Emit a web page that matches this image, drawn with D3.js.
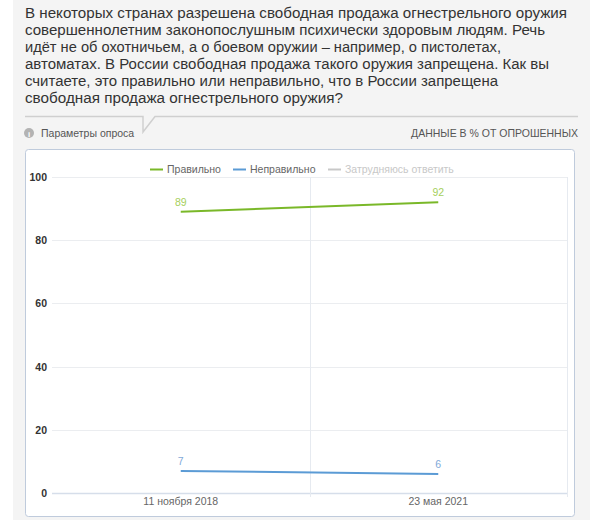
<!DOCTYPE html>
<html>
<meta charset="utf-8">
<style>
  body {
    margin: 0;
    background: #fff;
  }
  text {
    font-family: 'Liberation Sans', Arial, sans-serif;
  }
  .title {
    font-size: 14.7px;
    fill: #333;
  }
</style>
<body>
<script src="https://cdnjs.cloudflare.com/ajax/libs/d3/7.8.5/d3.min.js"></script>
<script>

// question text, one entry per rendered line
var titleLines = [
  'В некоторых странах разрешена свободная продажа огнестрельного оружия',
  'совершеннолетним законопослушным психически здоровым людям. Речь',
  'идёт не об охотничьем, а о боевом оружии – например, о пистолетах,',
  'автоматах. В России свободная продажа такого оружия запрещена. Как вы',
  'считаете, это правильно или неправильно, что в России запрещена',
  'свободная продажа огнестрельного оружия?'
];
// right end of each title line in the reference
var titleEnds = [567, 545, 501, 549, 498, 343];

var dates = ['11 ноября 2018', '23 мая 2021'];
var seriesNames = ['Правильно', 'Неправильно', 'Затрудняюсь ответить'];
var correctValues = [89, 92];
var wrongValues = [7, 6];
var unsureValues = [4, 2];
var seriesVisible = [true, true, false];
var seriesColors = ['#7ab829', '#5b9bd5', '#c8c8c8'];
var labelColors = ['#a6cf5c', '#7fa9d8', '#c8c8c8'];
var yTicks = [0, 20, 40, 60, 80, 100];

var W = 598, H = 520;

var svg = d3.select('body').append('svg')
  .attr('width', W)
  .attr('height', H);

// grey page panel
svg.append('rect')
  .attr('x', 13).attr('y', 0)
  .attr('width', 577).attr('height', H)
  .attr('fill', '#f4f4f4');

// title
svg.append('g').selectAll('text')
  .data(titleLines)
  .enter()
  .append('text')
  .attr('class', 'title')
  .attr('x', 25)
  .attr('y', function(d, i) { return 18 + i * 17; })
  .attr('textLength', function(d, i) { return titleEnds[i] - 25; })
  .attr('lengthAdjust', 'spacingAndGlyphs')
  .text(function(d) { return d; });

// separator with notch
svg.append('path')
  .attr('d', 'M25,116.5 H143 V132 L155,116.5 H578')
  .attr('fill', 'none')
  .attr('stroke', '#cfcfcf')
  .attr('stroke-width', 1.5);

// info icon + survey params
svg.append('circle')
  .attr('cx', 29).attr('cy', 133).attr('r', 5)
  .attr('fill', '#b3b3b3');
svg.append('text')
  .attr('x', 29).attr('y', 136.5)
  .attr('text-anchor', 'middle')
  .style('font-size', '8px')
  .style('font-weight', 'bold')
  .attr('fill', '#fff')
  .text('i');
svg.append('text')
  .attr('x', 41).attr('y', 137)
  .style('font-size', '10.5px')
  .attr('fill', '#555')
  .text('Параметры опроса');
svg.append('text')
  .attr('x', 578).attr('y', 137)
  .attr('text-anchor', 'end')
  .style('font-size', '10.5px')
  .attr('fill', '#555')
  .text('ДАННЫЕ В % ОТ ОПРОШЕННЫХ');

// chart box
svg.append('rect')
  .attr('x', 25.5).attr('y', 149.5)
  .attr('width', 549).attr('height', 367)
  .attr('rx', 3)
  .attr('fill', '#fff')
  .attr('stroke', '#bfcbdc')
  .attr('stroke-width', 1);

var plot = { left: 52, right: 567, top: 177, bottom: 493 };

var x = d3.scaleBand()
  .domain(dates)
  .range([plot.left, plot.right]);

var y = d3.scaleLinear()
  .domain([0, 100])
  .range([plot.bottom, plot.top]);

// horizontal grid
svg.append('g').selectAll('line')
  .data(yTicks)
  .enter()
  .append('line')
  .attr('x1', plot.left).attr('x2', plot.right)
  .attr('y1', function(d) { return Math.round(y(d)) + 0.5; })
  .attr('y2', function(d) { return Math.round(y(d)) + 0.5; })
  .attr('stroke', function(d) { return d === 0 ? '#d6deea' : '#ebedf0'; })
  .attr('stroke-width', function(d) { return d === 0 ? 1.5 : 1; });

// vertical grid at category boundaries
var bounds = dates.slice(1).map(function(d) { return x(d); }).concat([plot.right]);
svg.append('g').selectAll('line')
  .data(bounds)
  .enter()
  .append('line')
  .attr('x1', function(d) { return Math.round(d) + 0.5; })
  .attr('x2', function(d) { return Math.round(d) + 0.5; })
  .attr('y1', plot.top)
  .attr('y2', plot.bottom + 4)
  .attr('stroke', '#e6eaf0');

// y labels
svg.append('g').selectAll('text')
  .data(yTicks)
  .enter()
  .append('text')
  .attr('x', 47)
  .attr('y', function(d) { return y(d) + 4; })
  .attr('text-anchor', 'end')
  .style('font-size', '10.5px')
  .style('font-weight', 'bold')
  .attr('fill', '#333')
  .text(function(d) { return d; });

// x labels
svg.append('g').selectAll('text')
  .data(dates)
  .enter()
  .append('text')
  .attr('x', function(d) { return x(d) + x.bandwidth() / 2; })
  .attr('y', 505)
  .attr('text-anchor', 'middle')
  .style('font-size', '10.5px')
  .attr('fill', '#666')
  .text(function(d) { return d; });

// series
var series = [correctValues, wrongValues, unsureValues];
var line = d3.line()
  .x(function(d, i) { return x(dates[i]) + x.bandwidth() / 2; })
  .y(function(d) { return y(d); });

series.forEach(function(vals, s) {
  if (!seriesVisible[s]) return;
  svg.append('path')
    .datum(vals)
    .attr('d', line)
    .attr('fill', 'none')
    .attr('stroke', seriesColors[s])
    .attr('stroke-width', 2);
  svg.append('g').selectAll('text')
    .data(vals)
    .enter()
    .append('text')
    .attr('x', function(d, i) { return x(dates[i]) + x.bandwidth() / 2; })
    .attr('y', function(d) { return y(d) - 6; })
    .attr('text-anchor', 'middle')
    .style('font-size', '10.5px')
    .attr('fill', labelColors[s])
    .text(function(d) { return d; });
});

// legend
var legendX = [150, 233, 328];
var legend = svg.append('g').selectAll('g')
  .data(seriesNames)
  .enter()
  .append('g')
  .attr('transform', function(d, i) { return 'translate(' + legendX[i] + ',169)'; });

legend.append('line')
  .attr('x1', 0).attr('x2', 13)
  .attr('y1', 0.5).attr('y2', 0.5)
  .attr('stroke', function(d, i) { return seriesColors[i]; })
  .attr('stroke-width', 2);

legend.append('text')
  .attr('x', 17)
  .attr('y', 4)
  .style('font-size', '10.5px')
  .attr('fill', function(d, i) { return seriesVisible[i] ? '#666' : '#c8c8c8'; })
  .text(function(d) { return d; });

</script>
</body>
</html>
